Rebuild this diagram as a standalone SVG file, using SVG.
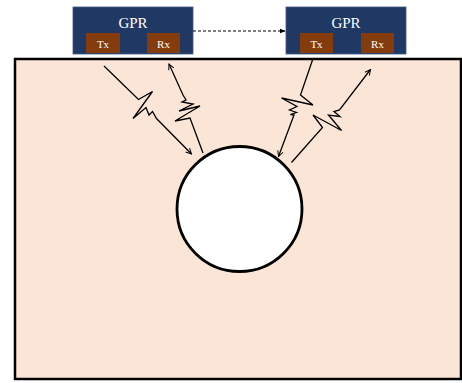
<svg xmlns="http://www.w3.org/2000/svg" width="462" height="383" viewBox="0 0 462 383">
<style>
.box{fill:#1F3864;stroke:#41577f;stroke-width:0.8}
.ant{fill:#843C0C}
.lbl{font-family:"Liberation Serif",serif;fill:#ffffff;text-anchor:middle}
.ray{fill:none;stroke:#000;stroke-width:1.3;stroke-linejoin:miter}
</style>
<defs>
<marker id="ah" viewBox="0 0 10 10" refX="9" refY="5" markerWidth="7" markerHeight="7" orient="auto-start-reverse" markerUnits="userSpaceOnUse">
<path d="M1,1 L9,5 L1,9" fill="none" stroke="#000" stroke-width="1.4"/>
</marker>
<marker id="dh" viewBox="0 0 10 10" refX="9" refY="5" markerWidth="6" markerHeight="6" orient="auto" markerUnits="userSpaceOnUse">
<path d="M0,1 L10,5 L0,9 Z" fill="#000"/>
</marker>
</defs>
<rect width="462" height="383" fill="#ffffff"/>
<g id="ground">
<rect x="15" y="59" width="446" height="320" fill="#FBE5D6" stroke="#000" stroke-width="2.5"/>
</g>
<g id="target">
<circle cx="239.5" cy="209" r="62.5" fill="#ffffff" stroke="#000" stroke-width="2.8"/>
</g>
<g id="gpr1">
<rect class="box" x="73" y="7" width="120" height="47"/>
<text class="lbl" x="133" y="27.5" font-size="15">GPR</text>
<rect class="ant" x="86" y="33" width="34" height="20"/>
<text class="lbl" x="103" y="47.5" font-size="11">Tx</text>
<rect class="ant" x="147" y="33" width="33" height="20"/>
<text class="lbl" x="163.5" y="47.5" font-size="11">Rx</text>
</g>
<g id="gpr2">
<rect class="box" x="286" y="7" width="120" height="47"/>
<text class="lbl" x="346" y="27.5" font-size="15">GPR</text>
<rect class="ant" x="300" y="33" width="33" height="20"/>
<text class="lbl" x="316.5" y="47.5" font-size="11">Tx</text>
<rect class="ant" x="361" y="33" width="33" height="20"/>
<text class="lbl" x="377.5" y="47.5" font-size="11">Rx</text>
</g>
<g id="connectors">
<line x1="193" y1="31" x2="285" y2="31" stroke="#000" stroke-width="1" stroke-dasharray="3,2" marker-end="url(#dh)"/>
<polyline class="ray" points="104,66 138.5,99.5 152.5,91.5 133,118.5 146,107.5 149,115 152.5,111.5 156.5,118.5 191.5,154" marker-end="url(#ah)"/>
<polyline class="ray" points="203,153 190,118 175,121 200,106 179,111 193,104 182,102 186,100 183,95 169,64" marker-end="url(#ah)"/>
<polyline class="ray" points="312.5,60 300.5,95 313,105 281.5,98 297,106.5 289.5,110 296.5,112.5 290.5,114.5 294,115 278.5,156.5" marker-end="url(#ah)"/>
<polyline class="ray" points="291.5,162.5 322.5,127.5 313,115 341.5,130.5 328.5,115 340,116.5 334,111.5 339.5,110 370.5,69.5" marker-end="url(#ah)"/>
</g>
</svg>
